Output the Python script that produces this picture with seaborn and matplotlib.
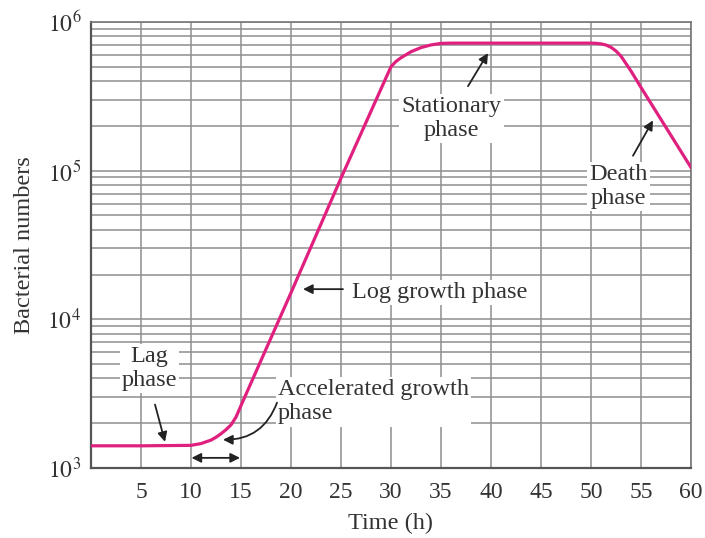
import numpy as np
import pandas as pd
import seaborn as sns
import matplotlib.pyplot as plt
from matplotlib.ticker import LogLocator, NullFormatter

# growth curve (time in h, bacterial numbers)
time_h = [0, 5, 10, 11, 12, 12.5, 13, 13.5, 14, 14.5, 15, 20, 25, 30, 30.5, 31, 32, 33,
          34, 35, 36, 40, 45, 50, 50.5, 51, 51.5, 52, 52.5, 53, 53.5, 54, 55, 60]
bacteria = [1410, 1410, 1420, 1460, 1540, 1610, 1700, 1810, 1950, 2200, 2630, 15100,
            89100, 501000, 543000, 575000, 631000, 673000, 701000, 718000, 721000,
            721000, 721000, 721000, 719000, 713000, 700000, 676000, 638000, 589000,
            525000, 468000, 363000, 105000]

x_ticks = [5, 10, 15, 20, 25, 30, 35, 40, 45, 50, 55, 60]
y_ticks = [1e3, 1e4, 1e5, 1e6]
y_ticklabels = ["$10^{3}$", "$10^{4}$", "$10^{5}$", "$10^{6}$"]

# phase labels: text, text position, alignment
phase_labels = ["Lag\nphase", "Accelerated growth\nphase", "Log growth phase",
                "Stationary\nphase", "Death\nphase"]
label_x = [5.85, 18.7, 26.1, 36.05, 52.75]
label_y = [4670, 2790, 15200, 224000, 78000]
label_ha = ["center", "left", "left", "center", "center"]

# arrows: tail -> tip
arrow_tail_x = [6.4, 18.6, 25.2, 37.7, 54.2]
arrow_tail_y = [2670, 2750, 15960, 370000, 126000]
arrow_tip_x = [7.4, 13.2, 21.2, 39.7, 56.2]
arrow_tip_y = [1500, 1550, 15960, 618000, 218000]
arrow_rad = [0, -0.35, 0, 0, 0]

# lag phase span (double arrow)
span_x = [10.05, 14.9]
span_y = 1170

df = pd.DataFrame({"Time (h)": time_h, "Bacterial numbers": bacteria})

sns.set_style("white")
plt.rcParams["font.family"] = ["Liberation Serif", "DejaVu Serif"]
plt.rcParams["mathtext.fontset"] = "stix"

fig = plt.figure(figsize=(7.05, 5.38), dpi=100)
ax = fig.add_axes([91 / 705, 1 - 468 / 538, 600 / 705, 446 / 538])

sns.lineplot(data=df, x="Time (h)", y="Bacterial numbers", ax=ax,
             color="#e0207f", lw=2.3, zorder=4)

ax.set_yscale("log")
ax.set_xlim(0, 60)
ax.set_ylim(1e3, 1e6)
ax.set_xticks(x_ticks)
ax.set_xticklabels([str(t) for t in x_ticks])
ax.set_yticks(y_ticks)
ax.set_yticklabels(y_ticklabels)
ax.yaxis.set_minor_locator(LogLocator(base=10, subs=np.arange(2, 10)))
ax.yaxis.set_minor_formatter(NullFormatter())
ax.tick_params(axis="both", which="both", length=0, labelsize=17, labelcolor="#333333")
ax.tick_params(axis="x", pad=10)
ax.tick_params(axis="y", pad=7)

ax.grid(which="major", axis="x", color="#8e8e8e", lw=1.1)
ax.grid(which="both", axis="y", color="#8e8e8e", lw=1.1)
for side in ["top", "right"]:
    ax.spines[side].set_color("#777777")
    ax.spines[side].set_linewidth(1.2)
for side in ["left", "bottom"]:
    ax.spines[side].set_color("#555555")
    ax.spines[side].set_linewidth(1.6)

ax.set_xlabel("Time (h)", fontsize=17.5, color="#333333")
ax.set_ylabel("Bacterial numbers", fontsize=17.5, color="#333333")
ax.xaxis.set_label_coords(0.5, -0.10)
ax.yaxis.set_label_coords(-0.093, 0.5)

for txt, tx, ty, ha in zip(phase_labels, label_x, label_y, label_ha):
    ax.text(tx, ty, txt, ha=ha, va="center", multialignment=ha, fontsize=17.5,
            linespacing=1.2, color="#333333", zorder=5,
            bbox=dict(fc="white", ec="none", pad=1.5))

for x0, y0, x1, y1, rad in zip(arrow_tail_x, arrow_tail_y, arrow_tip_x, arrow_tip_y, arrow_rad):
    ax.annotate("", xy=(x1, y1), xytext=(x0, y0), zorder=6,
                arrowprops=dict(arrowstyle="-|>", color="#222222", lw=1.3,
                                mutation_scale=14, shrinkA=0, shrinkB=0,
                                connectionstyle=f"arc3,rad={rad}"))

ax.annotate("", xy=(span_x[1], span_y), xytext=(span_x[0], span_y), zorder=6,
            arrowprops=dict(arrowstyle="<|-|>", color="#222222", lw=1.3,
                            mutation_scale=14, shrinkA=0, shrinkB=0))

plt.savefig("out.png", dpi=100)
